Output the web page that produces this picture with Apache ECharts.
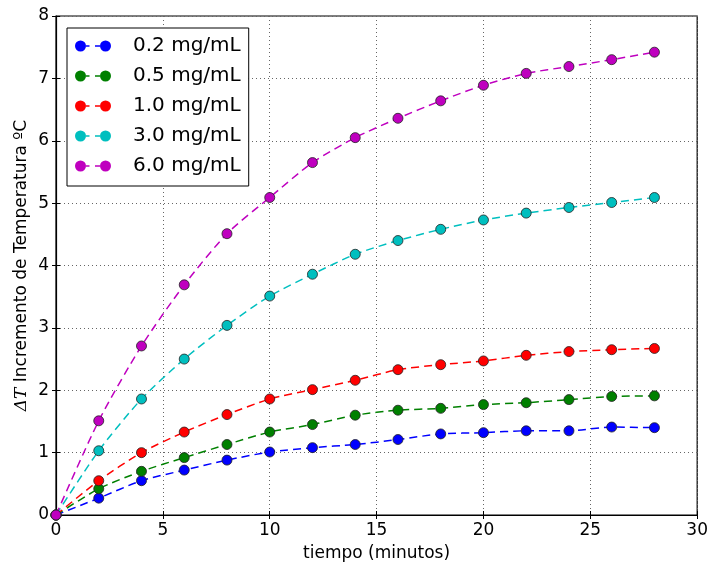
<!DOCTYPE html>
<html>
<head>
<meta charset="utf-8">
<script src="https://cdn.jsdelivr.net/npm/echarts@6/dist/echarts.min.js"></script>
<style>html,body{margin:0;padding:0;background:#fff}#c{width:711px;height:568px}</style>
</head>
<body>
<div id="c"></div>
<script>
const tiempo = [0, 2, 4, 6, 8, 10, 12, 14, 16, 18, 20, 22, 24, 26, 28];
const s02 = [0, 0.27, 0.55, 0.72, 0.88, 1.01, 1.08, 1.13, 1.21, 1.30, 1.32, 1.35, 1.35, 1.41, 1.40];
const s05 = [0, 0.42, 0.70, 0.92, 1.13, 1.33, 1.45, 1.60, 1.68, 1.71, 1.77, 1.80, 1.85, 1.90, 1.91];
const s10 = [0, 0.55, 1.00, 1.33, 1.61, 1.86, 2.01, 2.16, 2.33, 2.41, 2.47, 2.56, 2.62, 2.65, 2.67];
const s30 = [0, 1.03, 1.86, 2.50, 3.04, 3.51, 3.86, 4.18, 4.40, 4.58, 4.73, 4.84, 4.93, 5.01, 5.09];
const s60 = [0, 1.51, 2.71, 3.69, 4.51, 5.09, 5.65, 6.05, 6.36, 6.64, 6.89, 7.08, 7.19, 7.30, 7.42];
const seriesNames = ['0.2 mg/mL', '0.5 mg/mL', '1.0 mg/mL', '3.0 mg/mL', '6.0 mg/mL'];
const seriesColors = ['#0000ff', '#008000', '#ff0000', '#00bfbf', '#bf00bf'];
const allValues = [s02, s05, s10, s30, s60];
const xTicks = [0, 5, 10, 15, 20, 25, 30];
const yTicks = [0, 1, 2, 3, 4, 5, 6, 7, 8];

const FONT = 'DejaVu Sans';
const legendIcon = 'path://M0,5.5 A5.5,5.5 0 1,0 11,5.5 A5.5,5.5 0 1,0 0,5.5 Z M11,4.8 L14.5,4.8 L14.5,6.2 L11,6.2 Z M20,4.8 L25,4.8 L25,6.2 L20,6.2 Z M25,5.5 A5.5,5.5 0 1,0 36,5.5 A5.5,5.5 0 1,0 25,5.5 Z';

const series = allValues.map((vals, i) => ({
  name: seriesNames[i],
  type: 'line',
  data: tiempo.map((t, j) => [t, vals[j]]),
  symbol: 'circle',
  symbolSize: 10,
  smooth: 0.25,
  itemStyle: { color: seriesColors[i], borderColor: '#222', borderWidth: 0.8 },
  lineStyle: { color: seriesColors[i], width: 1.5, type: [8, 5] },
  emphasis: { disabled: true },
  z: 2 + i
}));

const chart = echarts.init(document.getElementById('c'), null, { renderer: 'canvas' });
chart.setOption({
  animation: false,
  backgroundColor: '#fff',
  textStyle: { fontFamily: FONT },
  grid: { left: 56, right: 12, top: 16, bottom: 53, show: true, borderColor: '#000', borderWidth: 1.2, backgroundColor: 'transparent' },
  legend: {
    left: 67, top: 28,
    orient: 'vertical',
    backgroundColor: '#fff',
    borderColor: '#000', borderWidth: 1,
    borderRadius: 0,
    padding: [8, 8, 10, 8],
    itemGap: 10,
    itemWidth: 36, itemHeight: 11,
    icon: legendIcon,
    itemStyle: { borderWidth: 0 },
    textStyle: { fontFamily: FONT, fontSize: 20, color: '#000', padding: [0, 0, 0, 17] },
    data: seriesNames,
    selectedMode: false,
    z: 10
  },
  xAxis: [{
    type: 'value', min: xTicks[0], max: xTicks[xTicks.length - 1], interval: 5,
    name: 'tiempo (minutos)', nameLocation: 'middle', nameGap: 30, nameMoveOverlap: false,
    nameTextStyle: { fontFamily: FONT, fontSize: 17, color: '#000' },
    axisLine: { show: true, lineStyle: { color: '#000', width: 1.2 } },
    axisTick: { show: true, inside: true, length: 4, lineStyle: { color: '#000' } },
    axisLabel: { fontFamily: FONT, fontSize: 17, color: '#000', margin: 7 },
    splitLine: { show: true, lineStyle: { color: '#666', width: 1, type: [1, 3] } }
  }, {
    type: 'value', position: 'top', min: xTicks[0], max: xTicks[xTicks.length - 1], interval: 5,
    axisLine: { show: false },
    axisTick: { show: true, inside: true, length: 4, lineStyle: { color: '#000' } },
    axisLabel: { show: false }, splitLine: { show: false }
  }],
  yAxis: [{
    type: 'value', min: yTicks[0], max: yTicks[yTicks.length - 1], interval: 1,
    name: '{i|ΔT} Incremento de Temperatura ºC', nameLocation: 'middle', nameGap: 26, nameMoveOverlap: false,
    nameTextStyle: { fontFamily: FONT, fontSize: 17, color: '#000',
      rich: { i: { fontFamily: 'DejaVu Serif', fontStyle: 'italic', fontSize: 17, color: '#000' } } },
    axisLine: { show: true, lineStyle: { color: '#000', width: 1.2 } },
    axisTick: { show: true, inside: true, length: 4, lineStyle: { color: '#000' } },
    axisLabel: { fontFamily: FONT, fontSize: 17, color: '#000', margin: 7 },
    splitLine: { show: true, lineStyle: { color: '#666', width: 1, type: [1, 3] } }
  }, {
    type: 'value', position: 'right', min: yTicks[0], max: yTicks[yTicks.length - 1], interval: 1,
    axisLine: { show: false },
    axisTick: { show: true, inside: true, length: 4, lineStyle: { color: '#000' } },
    axisLabel: { show: false }, splitLine: { show: false }
  }],
  series: series
});
</script>
</body>
</html>
